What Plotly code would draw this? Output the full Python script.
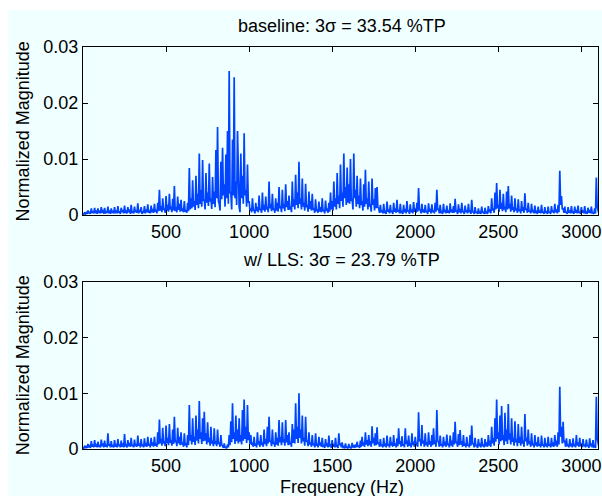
# -*- coding: utf-8 -*-

import plotly.graph_objs as go


# frequency grid (Hz), 10 Hz bins; each bin has a peak reading and a
# floor reading (taken 5 Hz later)
FREQ = list(range(0, 3101, 10))

# normalized magnitude, in units of 1e-4, one row per 200 Hz
BASELINE_PEAK = [
    3, 5, 4, 8, 6, 12, 7, 13, 8, 12, 6, 14, 9, 13, 7, 15, 8, 12, 6, 14,
    8, 16, 7, 13, 9, 17, 6, 14, 10, 18, 7, 15, 8, 21, 9, 14, 7, 16, 10, 19,
    8, 17, 11, 20, 9, 22, 45, 16, 30, 12, 34, 18, 38, 15, 29, 52, 14, 33, 20, 27,
    12, 25, 8, 22, 84, 30, 62, 25, 70, 38, 110, 45, 98, 28, 75, 40, 92, 30, 68, 42,
    116, 157, 20, 95, 120, 55, 108, 150, 257, 40, 135, 246, 60, 150, 15, 110, 70, 146, 45, 90,
    25, 12, 30, 8, 22, 14, 35, 10, 40, 18, 33, 15, 60, 20, 38, 12, 30, 22, 50, 16,
    45, 20, 55, 25, 35, 15, 60, 28, 72, 40, 95, 30, 65, 22, 56, 18, 42, 25, 38, 12,
    28, 10, 24, 14, 30, 8, 26, 12, 22, 40, 25, 60, 30, 75, 35, 90, 40, 110, 50, 85,
    55, 100, 30, 110, 45, 70, 35, 65, 25, 55, 81, 30, 60, 20, 65, 28, 48, 50, 12, 18,
    8, 20, 6, 24, 10, 18, 7, 22, 12, 27, 9, 20, 6, 18, 11, 25, 8, 19, 10, 23,
    12, 22, 48, 9, 20, 10, 18, 7, 21, 11, 19, 8, 22, 45, 10, 18, 6, 20, 9, 17,
    8, 21, 10, 16, 29, 7, 19, 11, 22, 6, 17, 9, 20, 8, 27, 5, 14, 6, 12, 5,
    15, 6, 13, 5, 16, 10, 30, 12, 40, 57, 18, 45, 22, 38, 15, 42, 52, 20, 35, 14,
    30, 12, 28, 10, 25, 14, 39, 11, 22, 8, 20, 9, 17, 6, 15, 8, 18, 5, 14, 7,
    15, 6, 16, 8, 20, 10, 18, 79, 34, 12, 15, 6, 14, 8, 16, 7, 15, 9, 17, 6,
    14, 8, 16, 5, 13, 9, 15, 4, 12, 67, 10,
]

BASELINE_FLOOR = [
    1, 2, 2, 3, 2, 4, 3, 3, 2, 4, 3, 4, 2, 3, 4, 3, 2, 4, 3, 3,
    3, 4, 2, 5, 3, 4, 3, 5, 2, 4, 3, 5, 4, 3, 5, 2, 4, 3, 5, 4,
    3, 5, 4, 6, 3, 7, 8, 5, 9, 4, 8, 6, 10, 5, 8, 7, 5, 9, 6, 7,
    5, 6, 4, 7, 10, 12, 15, 9, 18, 12, 20, 15, 25, 10, 22, 16, 24, 11, 20, 14,
    30, 25, 8, 28, 35, 15, 30, 20, 40, 10, 35, 30, 18, 40, 5, 30, 20, 35, 15, 22,
    8, 5, 9, 3, 7, 5, 10, 4, 9, 6, 10, 5, 12, 7, 9, 4, 8, 6, 12, 5,
    12, 7, 14, 9, 10, 5, 15, 10, 18, 12, 20, 10, 15, 8, 14, 6, 11, 8, 9, 4,
    7, 4, 6, 5, 8, 3, 7, 4, 6, 10, 8, 15, 10, 20, 12, 25, 15, 30, 18, 22,
    20, 25, 10, 30, 15, 20, 12, 18, 8, 15, 20, 10, 15, 6, 18, 8, 12, 14, 4, 5,
    3, 5, 2, 6, 3, 5, 2, 6, 4, 6, 3, 5, 2, 5, 3, 6, 2, 5, 3, 6,
    4, 6, 10, 3, 5, 4, 5, 2, 6, 3, 5, 3, 6, 10, 3, 5, 2, 5, 3, 4,
    3, 5, 4, 4, 7, 2, 5, 3, 6, 2, 5, 3, 5, 2, 6, 2, 4, 2, 3, 2,
    4, 2, 4, 2, 5, 3, 8, 4, 10, 12, 6, 11, 7, 10, 5, 10, 12, 6, 9, 5,
    8, 4, 7, 3, 7, 4, 9, 4, 6, 3, 5, 3, 5, 2, 4, 3, 5, 2, 4, 2,
    4, 2, 5, 3, 5, 3, 5, 18, 10, 4, 4, 2, 4, 3, 4, 2, 4, 3, 4, 2,
    4, 3, 4, 2, 4, 3, 4, 2, 3, 15, 3,
]

LLS_PEAK = [
    3, 6, 4, 9, 7, 14, 8, 16, 9, 13, 7, 17, 10, 15, 8, 28, 9, 14, 7, 16,
    9, 18, 8, 15, 10, 27, 7, 16, 11, 20, 8, 17, 9, 24, 10, 18, 8, 19, 11, 22,
    9, 20, 12, 22, 10, 30, 53, 18, 38, 14, 42, 20, 45, 16, 35, 58, 15, 38, 22, 30,
    12, 28, 9, 25, 79, 25, 55, 22, 60, 35, 86, 30, 55, 67, 28, 48, 20, 40, 15, 37,
    14, 35, 12, 25, 6, 10, 3, 8, 25, 50, 82, 30, 60, 35, 55, 25, 70, 89, 40, 79,
    30, 25, 12, 22, 10, 30, 14, 25, 12, 35, 18, 40, 58, 15, 35, 12, 30, 20, 52, 22,
    48, 18, 52, 25, 30, 12, 45, 35, 82, 40, 100, 35, 60, 20, 58, 15, 30, 12, 25, 10,
    28, 8, 22, 12, 20, 6, 18, 10, 24, 7, 16, 9, 20, 6, 28, 10, 12, 4, 10, 3,
    9, 3, 11, 5, 8, 13, 6, 15, 22, 12, 30, 16, 25, 14, 41, 20, 28, 39, 12, 18,
    8, 20, 10, 24, 9, 22, 12, 25, 10, 19, 37, 14, 23, 9, 37, 15, 24, 11, 28, 13,
    22, 12, 66, 18, 43, 15, 28, 12, 30, 14, 25, 37, 15, 70, 12, 24, 9, 22, 13, 26,
    10, 24, 15, 30, 49, 12, 27, 34, 14, 25, 10, 22, 8, 25, 42, 9, 20, 7, 18, 10,
    20, 8, 18, 12, 25, 15, 40, 20, 55, 89, 30, 60, 77, 25, 65, 35, 81, 28, 55, 20,
    50, 18, 45, 22, 40, 15, 63, 20, 35, 14, 28, 10, 25, 12, 22, 9, 24, 8, 20, 10,
    22, 9, 20, 12, 25, 15, 30, 112, 40, 49, 15, 19, 8, 18, 10, 19, 9, 25, 12, 20,
    10, 18, 8, 17, 7, 19, 10, 16, 5, 94, 12,
]

LLS_FLOOR = [
    1, 2, 2, 3, 2, 4, 3, 4, 3, 4, 3, 5, 3, 4, 3, 6, 3, 4, 3, 4,
    3, 5, 3, 4, 3, 6, 3, 5, 4, 5, 3, 5, 4, 6, 3, 5, 3, 5, 4, 6,
    3, 6, 4, 6, 4, 8, 10, 6, 10, 5, 10, 7, 11, 6, 9, 12, 5, 10, 7, 8,
    4, 8, 3, 7, 15, 8, 13, 7, 15, 10, 18, 9, 14, 15, 8, 12, 6, 10, 5, 9,
    5, 9, 4, 7, 2, 3, 1, 3, 7, 12, 18, 9, 14, 10, 13, 8, 15, 18, 11, 16,
    9, 7, 4, 6, 3, 8, 4, 7, 4, 9, 5, 10, 13, 5, 9, 4, 8, 6, 12, 7,
    12, 6, 12, 7, 8, 4, 11, 10, 18, 11, 20, 10, 14, 6, 13, 5, 8, 4, 7, 3,
    7, 3, 6, 4, 5, 2, 5, 3, 6, 2, 4, 3, 5, 2, 7, 3, 3, 1, 3, 1,
    3, 1, 3, 2, 3, 4, 2, 4, 6, 4, 8, 5, 7, 4, 10, 6, 7, 9, 4, 5,
    3, 5, 3, 6, 3, 6, 4, 6, 3, 5, 9, 4, 6, 3, 9, 4, 6, 3, 7, 4,
    6, 4, 14, 5, 10, 4, 7, 4, 8, 4, 7, 9, 4, 15, 4, 6, 3, 6, 4, 7,
    3, 6, 4, 8, 11, 4, 7, 8, 4, 6, 3, 6, 3, 6, 10, 3, 5, 2, 5, 3,
    5, 3, 5, 4, 6, 4, 10, 6, 13, 18, 8, 14, 16, 7, 14, 9, 17, 8, 13, 6,
    12, 5, 11, 6, 10, 4, 14, 6, 9, 4, 7, 3, 6, 4, 6, 3, 6, 3, 5, 3,
    6, 3, 5, 4, 6, 4, 8, 22, 10, 12, 4, 5, 3, 5, 3, 5, 3, 6, 4, 5,
    3, 5, 3, 5, 2, 5, 3, 4, 2, 18, 4,
]

TITLES = ["baseline: 3\u03c3 = 33.54 %TP", "w/ LLS: 3\u03c3 = 23.79 %TP"]
X_TICKS = [500, 1000, 1500, 2000, 2500, 3000]
Y_TICKS = [0, 0.01, 0.02, 0.03]
Y_TICK_TEXT = ["0", "0.01", "0.02", "0.03"]

BG = "#F0FFFF"
LINE = "#0044FF"
FONT = dict(family="Liberation Sans, Arial, sans-serif", size=18, color="black")


def merge_bins(freq, peak, floor):
    xs, ys = [], []
    for f, p, q in zip(freq, peak, floor):
        xs += [f, f + 5]
        ys += [p * 1e-4, q * 1e-4]
    return xs, ys


def axis_style():
    return dict(
        showline=True,
        linecolor="black",
        linewidth=1,
        mirror="ticks",
        ticks="inside",
        ticklen=5,
        tickcolor="black",
        showgrid=False,
        zeroline=False,
        tickfont=FONT,
        ticklabeloverflow="allow",
    )


fig = go.Figure()

x_base, y_base = merge_bins(FREQ, BASELINE_PEAK, BASELINE_FLOOR)
x_lls, y_lls = merge_bins(FREQ, LLS_PEAK, LLS_FLOOR)

fig.add_trace(
    go.Scatter(
        x=x_base, y=y_base, mode="lines",
        line=dict(color=LINE, width=1.7), xaxis="x", yaxis="y",
    )
)
fig.add_trace(
    go.Scatter(
        x=x_lls, y=y_lls, mode="lines",
        line=dict(color=LINE, width=1.7), xaxis="x2", yaxis="y2",
    )
)

xa = dict(axis_style(), range=[0, 3100], tickvals=X_TICKS)
ya = dict(axis_style(), range=[0, 0.03], tickvals=Y_TICKS, ticktext=Y_TICK_TEXT)

fig.update_layout(
    width=602,
    height=496,
    margin=dict(l=83, r=1, t=47, b=47),
    paper_bgcolor="white",
    plot_bgcolor=BG,
    showlegend=False,
    font=FONT,
    xaxis=dict(xa, anchor="y"),
    yaxis=dict(ya, anchor="x", domain=[0.582, 1.0]),
    xaxis2=dict(xa, anchor="y2"),
    yaxis2=dict(ya, anchor="x2", domain=[0.0, 0.4154]),
)

# figure face: leaves a thin white border on the top and left edges
fig.add_shape(
    type="rect", xref="paper", yref="paper",
    x0=-75 / 518, x1=1.1, y0=-0.2, y1=439 / 402,
    fillcolor=BG, line_width=0, layer="below",
)

notes = [
    (0.502, 1.052, TITLES[0], 0),
    (0.502, 0.470, TITLES[1], 0),
    (0.502, -0.0945, "Frequency (Hz)", 0),
    (-0.1158, 0.791, "Normalized Magnitude", -90),
    (-0.1158, 0.209, "Normalized Magnitude", -90),
]
for x, y, text, angle in notes:
    fig.add_annotation(
        x=x, y=y, xref="paper", yref="paper", text=text, showarrow=False,
        textangle=angle, font=FONT, xanchor="center", yanchor="middle",
    )

fig.write_html(
    "out.html",
    config={"displayModeBar": False},
    post_script="document.body.style.margin='0';document.body.style.overflow='hidden';",
)
